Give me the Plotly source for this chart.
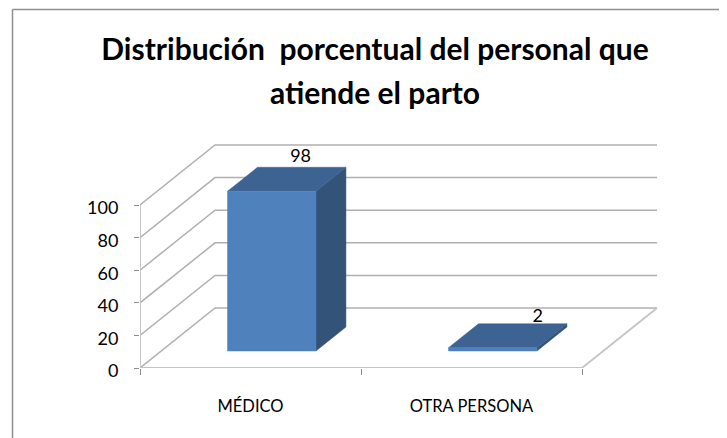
import plotly.graph_objects as go

# ---- data ----
categories = ["MÉDICO", "OTRA PERSONA"]
values = [98, 2]
y_ticks = [0, 20, 40, 60, 80, 100]
title_lines = ["Distribución  porcentual del personal que", "atiende el parto"]

# ---- chart geometry / style (the page puts the figure at an 8px body margin) ----
PAGE = 8
W, H = 727 - PAGE, 438 - PAGE
X0, Y0 = 140 - PAGE, 368 - PAGE   # pixel position of the front-left origin
PX_CAT, PX_VAL = 221, 1.63        # pixels per category / per value unit
DX, DY = 75, 60                   # oblique depth offset in pixels
R_PX, T_PX = 660 - PAGE, 138 - PAGE
BAR_W, D1, D2 = 0.40, 0.283, 0.683
GRID = "#b0b0b0"
FRONT, TOP, SIDE = "#4f81bd", "#3d6392", "#335378"
FONT = "Lato, Carlito, Calibri, sans-serif"
TITLE_SIZE = 30
TITLE_CX = 375 - PAGE
TITLE_Y1, TITLE_Y2 = 49 - PAGE, 92 - PAGE


def proj(c, v, d):
    """Oblique projection of (category, value, depth) into axis units."""
    return c + d * DX / PX_CAT, v + d * DY / PX_VAL


def poly(pts, fill):
    xs, ys = zip(*[proj(*p) for p in pts + pts[:1]])
    return go.Scatter(x=xs, y=ys, mode="lines", fill="toself", fillcolor=fill,
                      line=dict(color=fill, width=0.5), hoverinfo="skip")


def line(pts, width=1.5, color=GRID):
    xs, ys = zip(*[proj(*p) for p in pts])
    return go.Scatter(x=xs, y=ys, mode="lines", line=dict(color=color, width=width),
                      hoverinfo="skip")


n = len(categories)
fig = go.Figure()

# walls and floor
for t in y_ticks:
    fig.add_trace(line([(0, t, 0), (0, t, 1), (n, t, 1)]))
fig.add_trace(line([(n, 0, 1), (n, 0, 0), (0, 0, 0), (0, max(y_ticks), 0)], width=1.8, color="#c4c4c4"))

# bars
for i, v in enumerate(values):
    a, b = i + 0.5 - BAR_W / 2, i + 0.5 + BAR_W / 2
    fig.add_trace(poly([(b, 0, D1), (b, 0, D2), (b, v, D2), (b, v, D1)], SIDE))
    fig.add_trace(poly([(a, v, D1), (b, v, D1), (b, v, D2), (a, v, D2)], TOP))
    fig.add_trace(poly([(a, 0, D1), (b, 0, D1), (b, v, D1), (a, v, D1)], FRONT))

# data labels
lx0, ly0 = proj(0.5 - 0.005, values[0] + 1 / PX_VAL, D2)
lx1, ly1 = proj(1.5 + 15 / PX_CAT, values[1] - 3 / PX_VAL, D2)
fig.add_trace(go.Scatter(x=[lx0, lx1], y=[ly0, ly1], mode="text",
                         text=[str(v) for v in values], textposition="top center",
                         textfont=dict(family=FONT, size=18, color="#000000"),
                         hoverinfo="skip"))

title_font = dict(family=FONT, size=TITLE_SIZE, color="#000000", weight="bold")
fig.update_layout(
    width=W, height=H, showlegend=False,
    paper_bgcolor="white", plot_bgcolor="white",
    margin=dict(l=X0, r=W - R_PX, t=T_PX, b=H - Y0, pad=0),
    font=dict(family=FONT, color="#000000"),
    title=dict(text=title_lines[0], x=TITLE_CX / W, xanchor="center", xref="container",
               y=1 - TITLE_Y1 / H, yanchor="middle", font=title_font),
    annotations=[dict(text=title_lines[1], xref="paper", yref="paper", showarrow=False,
                      x=(TITLE_CX - X0) / (R_PX - X0), xanchor="center",
                      y=(Y0 - TITLE_Y2) / (Y0 - T_PX), yanchor="middle", font=title_font)],
    xaxis=dict(range=[0, (R_PX - X0) / PX_CAT], showgrid=False, zeroline=False, showline=False,
               tickmode="array", tickvals=[i + 0.5 for i in range(n)], ticktext=categories,
               ticks="", ticklen=0, tickfont=dict(size=16.5), fixedrange=True, automargin=False,
               ticklabelstandoff=26,
               minor=dict(tickmode="array", tickvals=list(range(n + 1)), ticks="outside",
                          ticklen=6, tickcolor="#8c8c8c", tickwidth=1, showgrid=False)),
    yaxis=dict(range=[0, (Y0 - T_PX) / PX_VAL], showgrid=False, zeroline=False, showline=False,
               tickmode="array", tickvals=y_ticks, ticks="outside", ticklen=5, tickcolor="#8c8c8c",
               tickwidth=1, tickfont=dict(size=18), fixedrange=True, automargin=False,
               ticklabelstandoff=12, ticklabelshift=3),
    shapes=[
        dict(type="line", xref="paper", yref="paper",
             x0=(4.5 - X0) / (R_PX - X0), x1=(W - X0) / (R_PX - X0),
             y0=(Y0 - 1.5) / (Y0 - T_PX), y1=(Y0 - 1.5) / (Y0 - T_PX),
             line=dict(color="#8e8e8e", width=1.5)),
        dict(type="line", xref="paper", yref="paper",
             x0=(4.5 - X0) / (R_PX - X0), x1=(4.5 - X0) / (R_PX - X0),
             y0=(Y0 - 1.5) / (Y0 - T_PX), y1=(Y0 - H) / (Y0 - T_PX),
             line=dict(color="#8e8e8e", width=1.5)),
    ],
)
fig.write_html("out.html", config=dict(displayModeBar=False))
